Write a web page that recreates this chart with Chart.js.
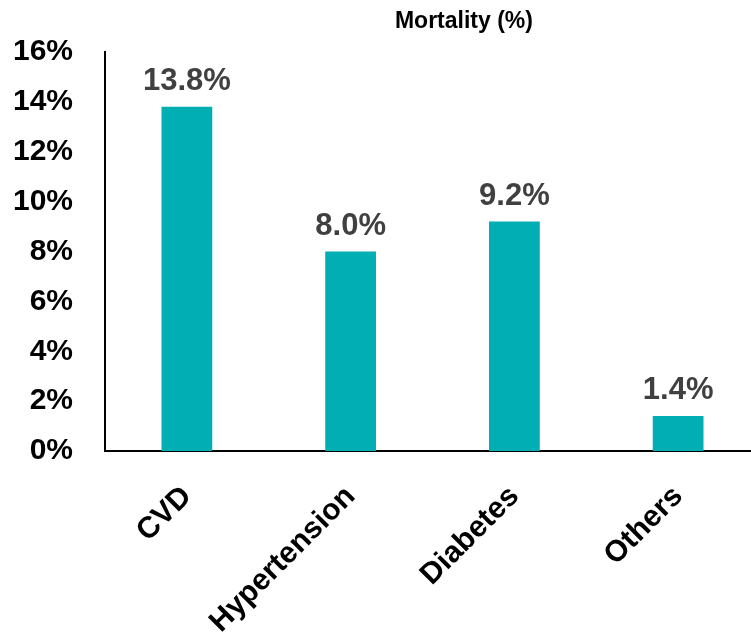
<!DOCTYPE html>
<html>
<head>
<meta charset="utf-8">
<script src="https://cdn.jsdelivr.net/npm/chart.js@4"></script>
<style>
    html, body { margin: 0; padding: 0; background: #fff; overflow: hidden; }
    #wrap { width: 760px; height: 634px; }
</style>
</head>
<body>
<div id="wrap"><canvas id="chart" width="760" height="634"></canvas></div>
<script>
// --- DATA ---
const categories = ['CVD', 'Hypertension', 'Diabetes', 'Others'];
const mortality = [13.8, 8.0, 9.2, 1.4];
const chartTitle = 'Mortality (%)';

const FONT = "'Liberation Sans', Arial, sans-serif";

// draws the value above each bar, and the small title
const labelPlugin = {
    id: 'barLabels',
    afterDatasetsDraw(chart) {
        const ctx = chart.ctx;
        const meta = chart.getDatasetMeta(0);
        ctx.save();
        ctx.font = 'bold 31px ' + FONT;
        ctx.fillStyle = '#404040';
        ctx.textAlign = 'center';
        ctx.textBaseline = 'alphabetic';
        meta.data.forEach((bar, i) => {
            ctx.fillText(mortality[i].toFixed(1) + '%', bar.x, bar.y - 17);
        });

        // title sits right of centre, like the original slide
        ctx.font = 'bold 23px ' + FONT;
        ctx.fillStyle = '#000';
        const area = chart.chartArea;
        ctx.fillText(chartTitle, area.left + (area.right - area.left) * 0.548, 28);
        ctx.restore();
    }
};

new Chart(document.getElementById('chart'), {
    type: 'bar',
    data: {
        labels: categories,
        datasets: [{
            data: mortality,
            backgroundColor: '#00AEB3',
            barPercentage: 0.31,
            categoryPercentage: 1.0
        }]
    },
    options: {
        responsive: false,
        animation: false,
        layout: { padding: { top: 52, left: 0, right: 0, bottom: 0 } },
        plugins: {
            legend: { display: false },
            title: { display: false },
            tooltip: { enabled: false }
        },
        scales: {
            x: {
                grid: { display: false, drawTicks: false },
                border: { color: '#000', width: 2 },
                ticks: {
                    color: '#000',
                    font: { family: FONT, size: 30, weight: 'bold' },
                    minRotation: 45,
                    maxRotation: 45,
                    padding: 28
                },
                afterFit(scale) { scale.height = 183; }
            },
            y: {
                min: 0,
                max: 16,
                grid: { display: false, drawTicks: false },
                border: { color: '#000', width: 2 },
                ticks: {
                    stepSize: 2,
                    color: '#000',
                    padding: 32,
                    font: { family: FONT, size: 30, weight: 'bold' },
                    callback: v => v + '%'
                },
                afterFit(scale) { scale.width = 105; }
            }
        }
    },
    plugins: [labelPlugin]
});
</script>
</body>
</html>
